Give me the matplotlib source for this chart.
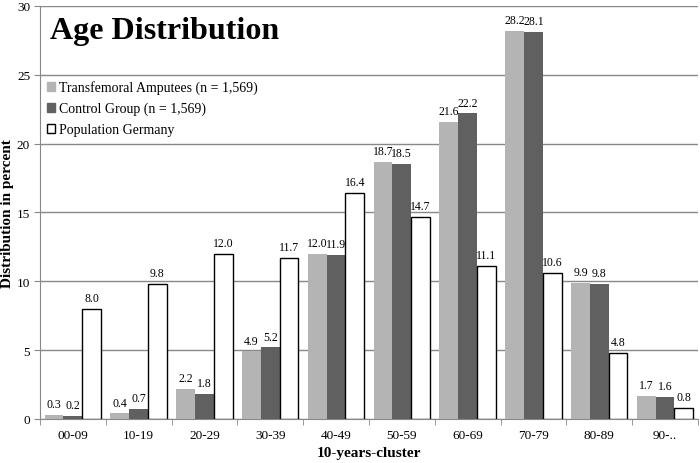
import numpy as np
import matplotlib
matplotlib.use('Agg')
from matplotlib import pyplot as plt
from matplotlib.patches import Patch

# data
clusters = ['00-09', '10-19', '20-29', '30-39', '40-49', '50-59', '60-69', '70-79', '80-89', '90-..']
amputees = [0.3, 0.4, 2.2, 4.9, 12.0, 18.7, 21.6, 28.2, 9.9, 1.7]
control = [0.2, 0.7, 1.8, 5.2, 11.9, 18.5, 22.2, 28.1, 9.8, 1.6]
germany = [8.0, 9.8, 12.0, 11.7, 16.4, 14.7, 11.1, 10.6, 4.8, 0.8]

plt.rcParams['font.family'] = ['Liberation Serif', 'DejaVu Serif']

fig = plt.figure(figsize=(7, 4.64), dpi=100)
ax = fig.add_axes([0.057, 0.095, 0.94, 0.89])

x = np.arange(len(clusters))
w = 0.285
light = '#b4b4b4'
dark = '#606060'

ax.bar(x - w, amputees, w, color=light, zorder=3)
ax.bar(x, control, w, color=dark, zorder=3)
ax.bar(x + w, germany, w, color='white', edgecolor='black', linewidth=1.0, zorder=3)

# value labels
for i in range(len(clusters)):
    ax.text(x[i] - w, amputees[i] + 0.35, '%.1f' % amputees[i], ha='center', va='bottom', fontsize=8.5)
    ax.text(x[i], control[i] + 0.35, '%.1f' % control[i], ha='center', va='bottom', fontsize=8.5)
    ax.text(x[i] + w, germany[i] + 0.35, '%.1f' % germany[i], ha='center', va='bottom', fontsize=8.5)

ax.set_xlim(-0.5, len(clusters) - 0.5)
ax.set_ylim(0, 30)
ax.set_yticks([0, 5, 10, 15, 20, 25, 30])
ax.yaxis.grid(True, color='#888888', linewidth=1.0, zorder=0)
ax.set_axisbelow(True)

ax.set_xticks(x)
ax.set_xticklabels(clusters, fontsize=9.5)
ax.set_xticks(np.arange(-0.5, len(clusters)), minor=True)
ax.tick_params(axis='x', which='major', length=0, pad=7)
ax.tick_params(axis='x', which='minor', length=4, color='#888888')
ax.tick_params(axis='y', length=4, color='#888888', labelsize=9.5, pad=3)

for s in ['top', 'right']:
    ax.spines[s].set_visible(False)
ax.spines['left'].set_color('#888888')
ax.spines['bottom'].set_color('#888888')

ax.set_xlabel('10-years-cluster', fontsize=11, fontweight='bold', labelpad=4)
ax.set_ylabel('Distribution in percent', fontsize=11, fontweight='bold', va='center')
ax.yaxis.set_label_coords(-0.049, 0.5)

ax.text(0.016, 0.975, 'Age Distribution', transform=ax.transAxes, fontsize=23,
        fontweight='bold', ha='left', va='top')

handles = [Patch(facecolor=light, edgecolor=light),
           Patch(facecolor=dark, edgecolor=dark),
           Patch(facecolor='white', edgecolor='black')]
labels = ['Transfemoral Amputees (n = 1,569)', 'Control Group (n = 1,569)', 'Population Germany']
ax.legend(handles, labels, loc='upper left', bbox_to_anchor=(-0.002, 0.84), frameon=False,
          fontsize=10, handlelength=0.6, handleheight=0.6, handletextpad=0.3,
          labelspacing=0.55, borderaxespad=0.2)

fig.savefig('out.png', dpi=100)
